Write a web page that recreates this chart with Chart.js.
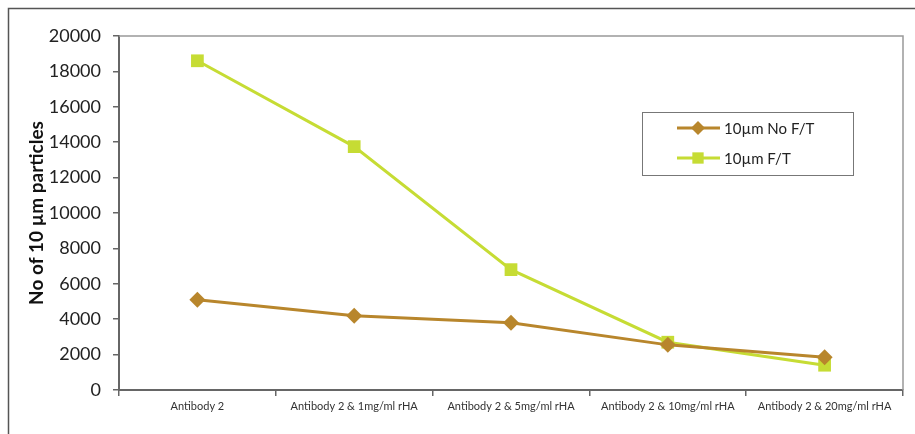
<!DOCTYPE html>
<html>
<head>
  <title>No of 10 µm particles</title>
  <script src="https://cdn.jsdelivr.net/npm/chart.js"></script>
  <style>
    body {
      margin: 0;
      background: #fff;
    }
    #wrap {
      width: 915px;
      height: 434px;
    }
  </style>
</head>
<body>
  <div id="wrap"><canvas id="chart"></canvas></div>

  <script>
    // data
    var categories = ["Antibody 2", "Antibody 2 & 1mg/ml rHA", "Antibody 2 & 5mg/ml rHA", "Antibody 2 & 10mg/ml rHA", "Antibody 2 & 20mg/ml rHA"];
    var noFT = [5100, 4200, 3800, 2550, 1850];
    var withFT = [18600, 13750, 6800, 2700, 1400];
    var seriesNames = ["10µm No F/T", "10µm F/T"];

    var brown = "rgb(184,134,44)";
    var green = "rgb(198,220,52)";

    // outer frame + top/right edges of the plot box
    var framePlugin = {
      id: "frame",
      afterDraw: function (chart) {
        var c = chart.ctx, a = chart.chartArea;
        c.save();
        c.strokeStyle = "#555";
        c.lineWidth = 1.5;
        c.beginPath();
        c.moveTo(8.5, 434);
        c.lineTo(8.5, 8.5);
        c.lineTo(915, 8.5);
        c.stroke();
        c.strokeStyle = "#999";
        c.lineWidth = 1.5;
        c.beginPath();
        c.moveTo(a.left, a.top);
        c.lineTo(a.right, a.top);
        c.lineTo(a.right, a.bottom);
        c.stroke();
        c.restore();
      }
    };

    // boxed legend inside the plot, like the original
    var boxLegend = {
      id: "boxLegend",
      afterDraw: function (chart) {
        var c = chart.ctx;
        var x = 642, y = 112, w = 211, h = 63;
        c.save();
        c.strokeStyle = "#777";
        c.lineWidth = 1;
        c.strokeRect(x + 0.5, y + 0.5, w, h);
        chart.data.datasets.forEach(function (ds, i) {
          var ly = y + 16 + i * 30;
          c.strokeStyle = ds.borderColor;
          c.lineWidth = 3;
          c.beginPath();
          c.moveTo(677, ly);
          c.lineTo(720, ly);
          c.stroke();
          c.fillStyle = ds.backgroundColor;
          Chart.helpers.drawPoint(c, { pointStyle: ds.pointStyle, radius: ds.pointRadius - 1, borderWidth: 0 }, 698, ly);
          c.fillStyle = "#222";
          c.font = "15px Lato";
          c.textBaseline = "middle";
          c.fillText(ds.label, 724, ly + 1);
        });
        c.restore();
      }
    };

    var ctx = document.getElementById("chart").getContext("2d");
    var chart = new Chart(ctx, {
      type: "line",
      data: {
        labels: categories,
        datasets: [{
          label: seriesNames[0],
          data: noFT,
          borderColor: brown,
          backgroundColor: brown,
          borderWidth: 3,
          pointStyle: "rectRot",
          pointRadius: 8,
          pointBorderWidth: 0,
          fill: false
        }, {
          label: seriesNames[1],
          data: withFT,
          borderColor: green,
          backgroundColor: green,
          borderWidth: 3,
          pointStyle: "rect",
          pointRadius: 9,
          pointBorderWidth: 0,
          fill: false
        }]
      },
      plugins: [framePlugin, boxLegend],
      options: {
        responsive: true,
        maintainAspectRatio: false,
        animation: false,
        layout: {
          padding: { left: 19, right: 12, top: 36, bottom: 0 }
        },
        plugins: {
          legend: { display: false },
          tooltip: { enabled: false }
        },
        scales: {
          x: {
            offset: true,
            grid: {
              offset: true,
              drawOnChartArea: false,
              tickLength: 6,
              color: "#666",
              lineWidth: 1.5
            },
            border: { color: "#666", width: 2 },
            ticks: {
              color: "#333",
              font: { family: "Lato", size: 11 },
              padding: 4,
              maxRotation: 0,
              autoSkip: false
            },
            afterFit: function (s) { s.height = 44; }
          },
          y: {
            min: 0,
            max: 20000,
            grid: {
              drawOnChartArea: false,
              tickLength: 6,
              color: "#666",
              lineWidth: 1.5
            },
            border: { color: "#666", width: 2 },
            ticks: {
              stepSize: 2000,
              color: "#222",
              font: { family: "Lato", size: 18 },
              padding: 12,
              callback: function (v) { return String(v); }
            },
            title: {
              display: true,
              text: "No of 10 µm particles",
              color: "#111",
              font: { family: "Lato", size: 19, weight: "bold" },
              padding: { top: 6, bottom: 0 }
            },
            afterFit: function (s) { s.width = 100; }
          }
        }
      }
    });
  </script>
</body>
</html>
